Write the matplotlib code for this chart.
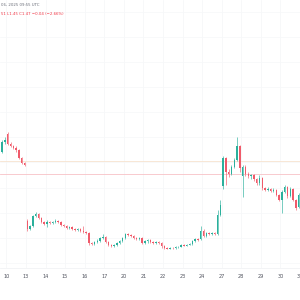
import numpy as np
import matplotlib
matplotlib.use("Agg")
import matplotlib.pyplot as plt

# ---- data (hourly candles, last two of day 9 then 7 per trading day) ----
day_labels = ['10', '13', '14', '15', '16', '17', '20', '21', '22', '23',
              '24', '27', '28', '29', '30', '31']

opens = [
    1.642, 1.682,
    1.714, 1.674, 1.666, 1.658, 1.650, 1.618, 1.598,
    1.366, 1.334, 1.346, 1.386, 1.394, 1.378, 1.362,
    1.354, 1.362, 1.358, 1.362, 1.366, 1.362, 1.350,
    1.346, 1.338, 1.342, 1.334, 1.330, 1.334, 1.326,
    1.322, 1.318, 1.278, 1.274, 1.282, 1.286, 1.298,
    1.302, 1.282, 1.270, 1.266, 1.270, 1.278, 1.286,
    1.298, 1.314, 1.310, 1.306, 1.298, 1.294, 1.298,
    1.278, 1.286, 1.290, 1.282, 1.278, 1.282, 1.278,
    1.266, 1.258, 1.256, 1.260, 1.258, 1.262, 1.264,
    1.270, 1.268, 1.272, 1.274, 1.286, 1.294, 1.294,
    1.326, 1.306, 1.318, 1.314, 1.318, 1.314, 1.390,
    1.506, 1.618, 1.562, 1.554, 1.582, 1.610, 1.666,
    1.546, 1.582, 1.554, 1.546, 1.550, 1.534, 1.518,
    1.538, 1.498, 1.490, 1.494, 1.486, 1.490, 1.470,
    1.450, 1.482, 1.502, 1.466, 1.494, 1.450, 1.422,
]
highs = [
    1.690, 1.702,
    1.722, 1.682, 1.670, 1.666, 1.654, 1.622, 1.602,
    1.374, 1.350, 1.390, 1.402, 1.398, 1.382, 1.366,
    1.370, 1.366, 1.366, 1.374, 1.370, 1.366, 1.354,
    1.350, 1.346, 1.346, 1.338, 1.338, 1.338, 1.346,
    1.326, 1.322, 1.282, 1.286, 1.294, 1.302, 1.314,
    1.306, 1.286, 1.274, 1.274, 1.282, 1.290, 1.302,
    1.318, 1.318, 1.314, 1.310, 1.302, 1.302, 1.302,
    1.290, 1.294, 1.294, 1.286, 1.286, 1.286, 1.282,
    1.270, 1.262, 1.262, 1.262, 1.266, 1.266, 1.274,
    1.274, 1.274, 1.278, 1.290, 1.298, 1.298, 1.346,
    1.334, 1.322, 1.322, 1.322, 1.322, 1.410, 1.450,
    1.626, 1.622, 1.574, 1.590, 1.618, 1.702, 1.670,
    1.590, 1.590, 1.562, 1.554, 1.554, 1.538, 1.550,
    1.542, 1.502, 1.502, 1.498, 1.498, 1.494, 1.474,
    1.490, 1.510, 1.506, 1.502, 1.498, 1.454, 1.478,
]
lows = [
    1.638, 1.674,
    1.670, 1.662, 1.654, 1.642, 1.614, 1.594, 1.586,
    1.326, 1.330, 1.342, 1.382, 1.374, 1.358, 1.350,
    1.342, 1.354, 1.354, 1.358, 1.358, 1.346, 1.342,
    1.334, 1.334, 1.330, 1.326, 1.326, 1.322, 1.318,
    1.314, 1.270, 1.270, 1.270, 1.278, 1.282, 1.294,
    1.278, 1.266, 1.262, 1.262, 1.266, 1.274, 1.282,
    1.294, 1.306, 1.302, 1.294, 1.290, 1.290, 1.274,
    1.274, 1.278, 1.278, 1.274, 1.274, 1.274, 1.258,
    1.254, 1.254, 1.254, 1.254, 1.254, 1.258, 1.262,
    1.266, 1.266, 1.270, 1.270, 1.282, 1.286, 1.290,
    1.302, 1.302, 1.310, 1.310, 1.310, 1.310, 1.386,
    1.494, 1.510, 1.542, 1.550, 1.578, 1.606, 1.562,
    1.462, 1.546, 1.538, 1.534, 1.526, 1.510, 1.510,
    1.490, 1.486, 1.486, 1.482, 1.482, 1.466, 1.446,
    1.398, 1.478, 1.458, 1.462, 1.446, 1.410, 1.418,
]
closes = [
    1.682, 1.690,
    1.674, 1.666, 1.658, 1.650, 1.618, 1.598, 1.590,
    1.334, 1.346, 1.386, 1.394, 1.378, 1.362, 1.354,
    1.362, 1.358, 1.362, 1.366, 1.362, 1.350, 1.346,
    1.338, 1.342, 1.334, 1.330, 1.334, 1.326, 1.322,
    1.318, 1.278, 1.274, 1.282, 1.286, 1.298, 1.302,
    1.282, 1.270, 1.266, 1.270, 1.278, 1.286, 1.298,
    1.314, 1.310, 1.306, 1.298, 1.294, 1.298, 1.278,
    1.286, 1.290, 1.282, 1.278, 1.282, 1.278, 1.266,
    1.258, 1.256, 1.260, 1.258, 1.262, 1.264, 1.270,
    1.268, 1.272, 1.274, 1.286, 1.294, 1.290, 1.326,
    1.306, 1.318, 1.314, 1.318, 1.314, 1.390, 1.430,
    1.618, 1.562, 1.554, 1.582, 1.610, 1.666, 1.578,
    1.582, 1.554, 1.546, 1.550, 1.534, 1.518, 1.538,
    1.498, 1.490, 1.494, 1.486, 1.490, 1.470, 1.450,
    1.482, 1.502, 1.466, 1.494, 1.450, 1.418, 1.470,
]
candles_first_day = 2      # candles of the partial day before "10"
candles_per_day = 7
level_lines = [1.606, 1.554]   # horizontal drawn levels
level_colors = ['#f7e3cf', '#f7c2c6']

header_line1 = "06, 2025 09:55 UTC"
header_line2 = "51 L1.45 C1.47 \u22120.04 (\u22122.66%)"

UP = '#2bb09c'
DOWN = '#f05a6a'

# ---- figure ----
fig = plt.figure(figsize=(3, 3), dpi=100)
ax = fig.add_axes([0, 32 / 300, 1, 268 / 300])

o = np.array(opens); h = np.array(highs); l = np.array(lows); c = np.array(closes)
x = np.arange(len(o))
up = c >= o
cols = np.where(up, UP, DOWN)

# gridlines
tick_pos = [candles_first_day + k * candles_per_day - 0.5 for k in range(len(day_labels))]
for t in tick_pos:
    ax.axvline(t, color='#f4f5f7', lw=0.5, zorder=0)
for yv in np.arange(1.2, 2.3, 0.1):
    ax.axhline(yv, color='#f6f7f9', lw=0.5, zorder=0)

for lv, lc in zip(level_lines, level_colors):
    ax.axhline(lv, color=lc, lw=0.6, zorder=1)

# candles
ax.vlines(x, l, h, colors=cols, lw=0.45, zorder=2)
body_bottom = np.minimum(o, c)
body_h = np.maximum(np.abs(c - o), 0.002)
ax.bar(x, body_h, bottom=body_bottom, width=0.5, color=cols, linewidth=0, zorder=3)

# scales
ax.set_xlim(8.5 - 26 / 2.8, 8.5 + 274 / 2.8)
ax.set_ylim(1.178, 2.25)
ax.set_xticks(tick_pos)
ax.set_xticklabels(day_labels)
ax.set_yticks([])
ax.tick_params(axis='x', length=0, pad=4.0, labelsize=3.6, labelcolor='#50535e')
for s in ['top', 'left', 'right']:
    ax.spines[s].set_visible(False)
ax.spines['bottom'].set_color('#eef0f3')
ax.spines['bottom'].set_linewidth(0.5)

fig.text(0.002, 1 - 5 / 300, header_line1, fontsize=2.8, color='#6a6d78', va='center', ha='left')
fig.text(0.002, 1 - 14 / 300, header_line2, fontsize=2.8, color='#f23645', va='center', ha='left')

fig.savefig('out.png', dpi=100, facecolor='white')
